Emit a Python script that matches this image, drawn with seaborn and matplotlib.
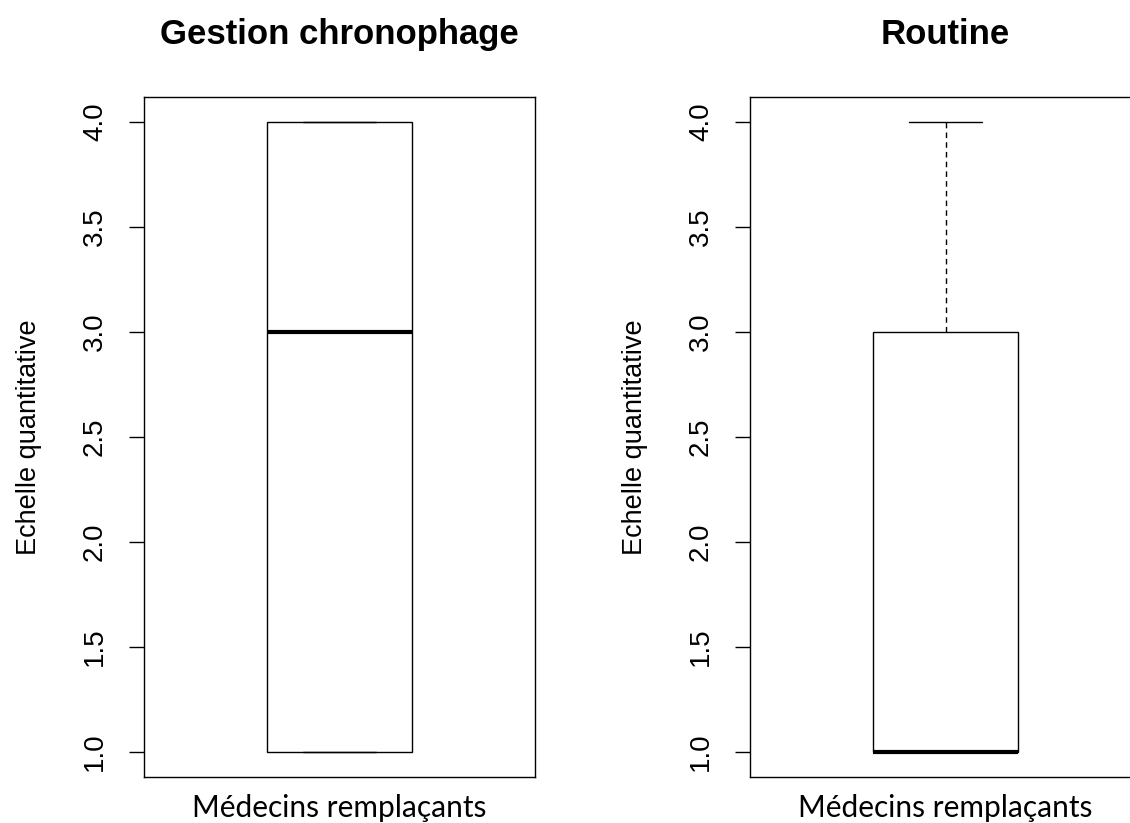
import matplotlib
matplotlib.use("Agg")
import matplotlib.pyplot as plt
import seaborn as sns
import pandas as pd

titles = ["Gestion chronophage", "Routine"]
gestion_values = [1, 1, 3, 4, 4]
routine_values = [1, 1, 1, 3, 4]
ylabel = "Echelle quantitative"
xlabel = "Médecins remplaçants"
yticks = [1.0, 1.5, 2.0, 2.5, 3.0, 3.5, 4.0]

sns.set_theme(style="white")
plt.rcParams['font.family'] = ['Liberation Sans', 'DejaVu Sans']

fig = plt.figure(figsize=(11.3, 8.23), dpi=100)
W, H = 1130, 823
ax_w = 391
ax_l = [144, 750]
ax_top, ax_bot = 96.5, 777

datasets = [gestion_values, routine_values]
for i, (title, vals) in enumerate(zip(titles, datasets)):
    ax = fig.add_axes([ax_l[i] / W, (H - ax_bot) / H, ax_w / W, (ax_bot - ax_top) / H])
    df = pd.DataFrame({"v": vals})
    sns.boxplot(data=df, y="v", ax=ax, width=0.4, whis=1.5,
                color="white", linecolor="black", linewidth=1.0, saturation=1,
                whiskerprops=dict(color="black", linestyle=(0, (4, 3)), linewidth=1.0),
                capprops=dict(color="black", linewidth=1.0),
                medianprops=dict(color="black", linewidth=3.0, solid_capstyle="butt"),
                showfliers=False)
    ax.set_xlim(-0.54, 0.54)
    ax.set_ylim(0.88, 4.12)
    ax.set_yticks(yticks)
    ax.set_yticklabels([f"{t:.1f}" for t in yticks], rotation=90, va="center", fontsize=20)
    ax.set_xticks([])
    ax.tick_params(axis="y", left=True, length=11, width=1.0, pad=15, color="black", labelcolor="black")
    for s in ax.spines.values():
        s.set_visible(True)
        s.set_color("black")
        s.set_linewidth(1.0)
    ax.set_ylabel(ylabel, fontsize=19.5, labelpad=29, color="black")
    ax.set_xlabel(xlabel, fontsize=21.5, family=["Lato", "DejaVu Sans"], labelpad=12, color="black")
    ax.set_title(title, fontsize=25, fontweight="bold", pad=38, color="black")

fig.savefig("out.png", dpi=100, facecolor="white")
